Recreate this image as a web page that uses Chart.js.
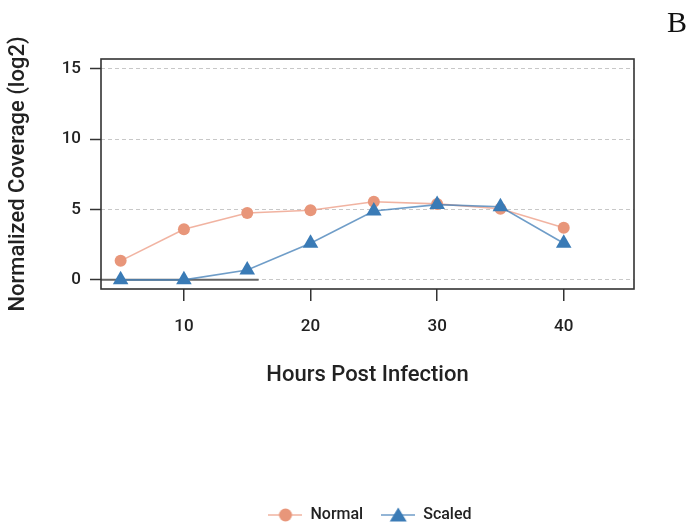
<!DOCTYPE html>
<html>
<head>
<meta charset="utf-8">
<script src="https://cdn.jsdelivr.net/npm/chart.js@4.4.0/dist/chart.umd.min.js"></script>
<style>
  html, body { margin: 0; padding: 0; background: #fff; }
  #wrap { position: relative; width: 689px; height: 529px; }
  #panel {
    position: absolute; left: 667px; top: 5px;
    font-family: "Liberation Serif", "DejaVu Serif", serif;
    font-size: 30px; color: #111;
  }
</style>
</head>
<body>
<div id="wrap">
  <canvas id="c" width="689" height="529"></canvas>
  <div id="panel">B</div>
</div>
<script>
// Coverage per time point (log2 scale)
const hours = [5, 10, 15, 20, 25, 30, 35, 40];
const normalCoverage = [1.35, 3.6, 4.75, 4.95, 5.55, 5.4, 5.05, 3.7];
const scaledCoverage = [0, 0, 0.7, 2.6, 4.9, 5.35, 5.2, 2.6];

// Axis ticks
const xTickValues = [10, 20, 30, 40];
const yTickValues = [0, 5, 10, 15];

// Short reference segment along zero
const baselineHours = [3.45, 15.9];
const baselineLevel = [0, 0];

const NORMAL_POINT = '#e8967a';
const NORMAL_LINE = 'rgba(236,150,125,0.72)';
const SCALED_POINT = '#3a7bb6';
const SCALED_LINE = 'rgba(70,130,185,0.78)';
const PLOT_BOTTOM = 289;   // lower edge of the plotting frame
const LEGEND_SHIFT_X = 53; // legend sits centred under the plotting frame
const LEGEND_SHIFT_Y = 4;

Chart.defaults.font.family = "Roboto, 'DejaVu Sans', sans-serif";
Chart.defaults.font.weight = '500';
Chart.defaults.color = '#222';

function legendGlyph(lineColor, fillColor, shape) {
  const cv = document.createElement('canvas');
  cv.width = 34; cv.height = 18;
  const g = cv.getContext('2d');
  g.strokeStyle = lineColor; g.lineWidth = 1.6;
  g.beginPath(); g.moveTo(0, 9); g.lineTo(34, 9); g.stroke();
  g.fillStyle = fillColor;
  g.beginPath();
  if (shape === 'circle') {
    g.arc(17, 9, 6.5, 0, Math.PI * 2);
  } else {
    g.moveTo(17, 1.5); g.lineTo(25.5, 15.5); g.lineTo(8.5, 15.5); g.closePath();
  }
  g.fill();
  return cv;
}
const glyphs = [
  legendGlyph(NORMAL_LINE, NORMAL_POINT, 'circle'),
  legendGlyph(SCALED_LINE, SCALED_POINT, 'triangle')
];

const toPoints = (xs, ys) => xs.map((x, i) => ({ x, y: ys[i] }));

const frame = {
  id: 'frame',
  afterLayout(chart) {
    const lg = chart.legend;
    if (lg) {
      lg.left += LEGEND_SHIFT_X; lg.right += LEGEND_SHIFT_X;
      lg.top += LEGEND_SHIFT_Y; lg.bottom += LEGEND_SHIFT_Y;
    }
  },
  afterDatasetsDraw(chart) {
    const { ctx, chartArea: a } = chart;
    ctx.save();
    ctx.strokeStyle = '#333';
    ctx.lineWidth = 1.6;
    ctx.strokeRect(a.left, a.top, a.right - a.left, a.bottom - a.top);
    ctx.restore();
  }
};

new Chart(document.getElementById('c'), {
  type: 'line',
  data: {
    datasets: [
      {
        label: 'Normal',
        data: toPoints(hours, normalCoverage),
        borderColor: NORMAL_LINE,
        borderWidth: 1.6,
        pointStyle: 'circle',
        pointRadius: 6,
        pointBackgroundColor: NORMAL_POINT,
        pointBorderWidth: 0,
        tension: 0,
        order: 1
      },
      {
        label: 'Scaled',
        data: toPoints(hours, scaledCoverage),
        borderColor: SCALED_LINE,
        borderWidth: 1.6,
        pointStyle: 'triangle',
        pointRadius: 9,
        pointBackgroundColor: SCALED_POINT,
        pointBorderWidth: 0,
        tension: 0,
        order: 0
      },
      {
        label: 'baseline',
        data: toPoints(baselineHours, baselineLevel),
        borderColor: '#666',
        borderWidth: 2,
        pointRadius: 0,
        order: 2
      }
    ]
  },
  options: {
    responsive: false,
    animation: false,
    layout: { padding: { left: 0, top: 59, right: 55, bottom: 0 } },
    scales: {
      x: {
        type: 'linear',
        min: 3.45,
        max: 45.55,
        afterBuildTicks: s => { s.ticks = xTickValues.map(v => ({ value: v })); },
        afterFit: s => {
          const lg = s.chart.legend;
          s.height = s.chart.height - PLOT_BOTTOM - (lg ? lg.height : 0);
        },
        grid: {
          drawOnChartArea: false,
          drawTicks: true,
          tickLength: 12,
          color: '#333',
          lineWidth: 1.5
        },
        border: { display: false },
        ticks: { font: { size: 17 }, padding: 16, color: '#222' },
        title: {
          display: true,
          text: 'Hours Post Infection',
          font: { size: 22 },
          color: '#222',
          padding: { top: 0, bottom: 96 }
        }
      },
      y: {
        type: 'linear',
        min: -0.65,
        max: 15.7,
        afterBuildTicks: s => { s.ticks = yTickValues.map(v => ({ value: v })); },
        afterFit: s => { s.width = 101; },
        grid: {
          drawOnChartArea: true,
          tickLength: 11,
          color: '#c8c8c8',
          tickColor: '#333',
          tickWidth: 1.5,
          tickBorderDash: [],
          lineWidth: 1
        },
        border: { display: false, dash: [4, 3] },
        ticks: { font: { size: 17 }, padding: 9, color: '#222' },
        title: {
          display: true,
          text: 'Normalized Coverage (log2)',
          font: { size: 22 },
          color: '#222',
          padding: { top: 5, bottom: 0 }
        }
      }
    },
    plugins: {
      tooltip: { enabled: false },
      legend: {
        position: 'bottom',
        labels: {
          usePointStyle: true,
          pointStyleWidth: 34,
          padding: 18,
          font: { size: 16 },
          color: '#222',
          generateLabels: chart => chart.data.datasets.slice(0, 2).map((ds, i) => ({
            text: ds.label,
            fillStyle: ds.pointBackgroundColor,
            strokeStyle: ds.borderColor,
            lineWidth: 0,
            pointStyle: glyphs[i],
            hidden: false,
            datasetIndex: i,
            fontColor: '#222'
          }))
        }
      }
    }
  },
  plugins: [frame]
});
</script>
</body>
</html>
